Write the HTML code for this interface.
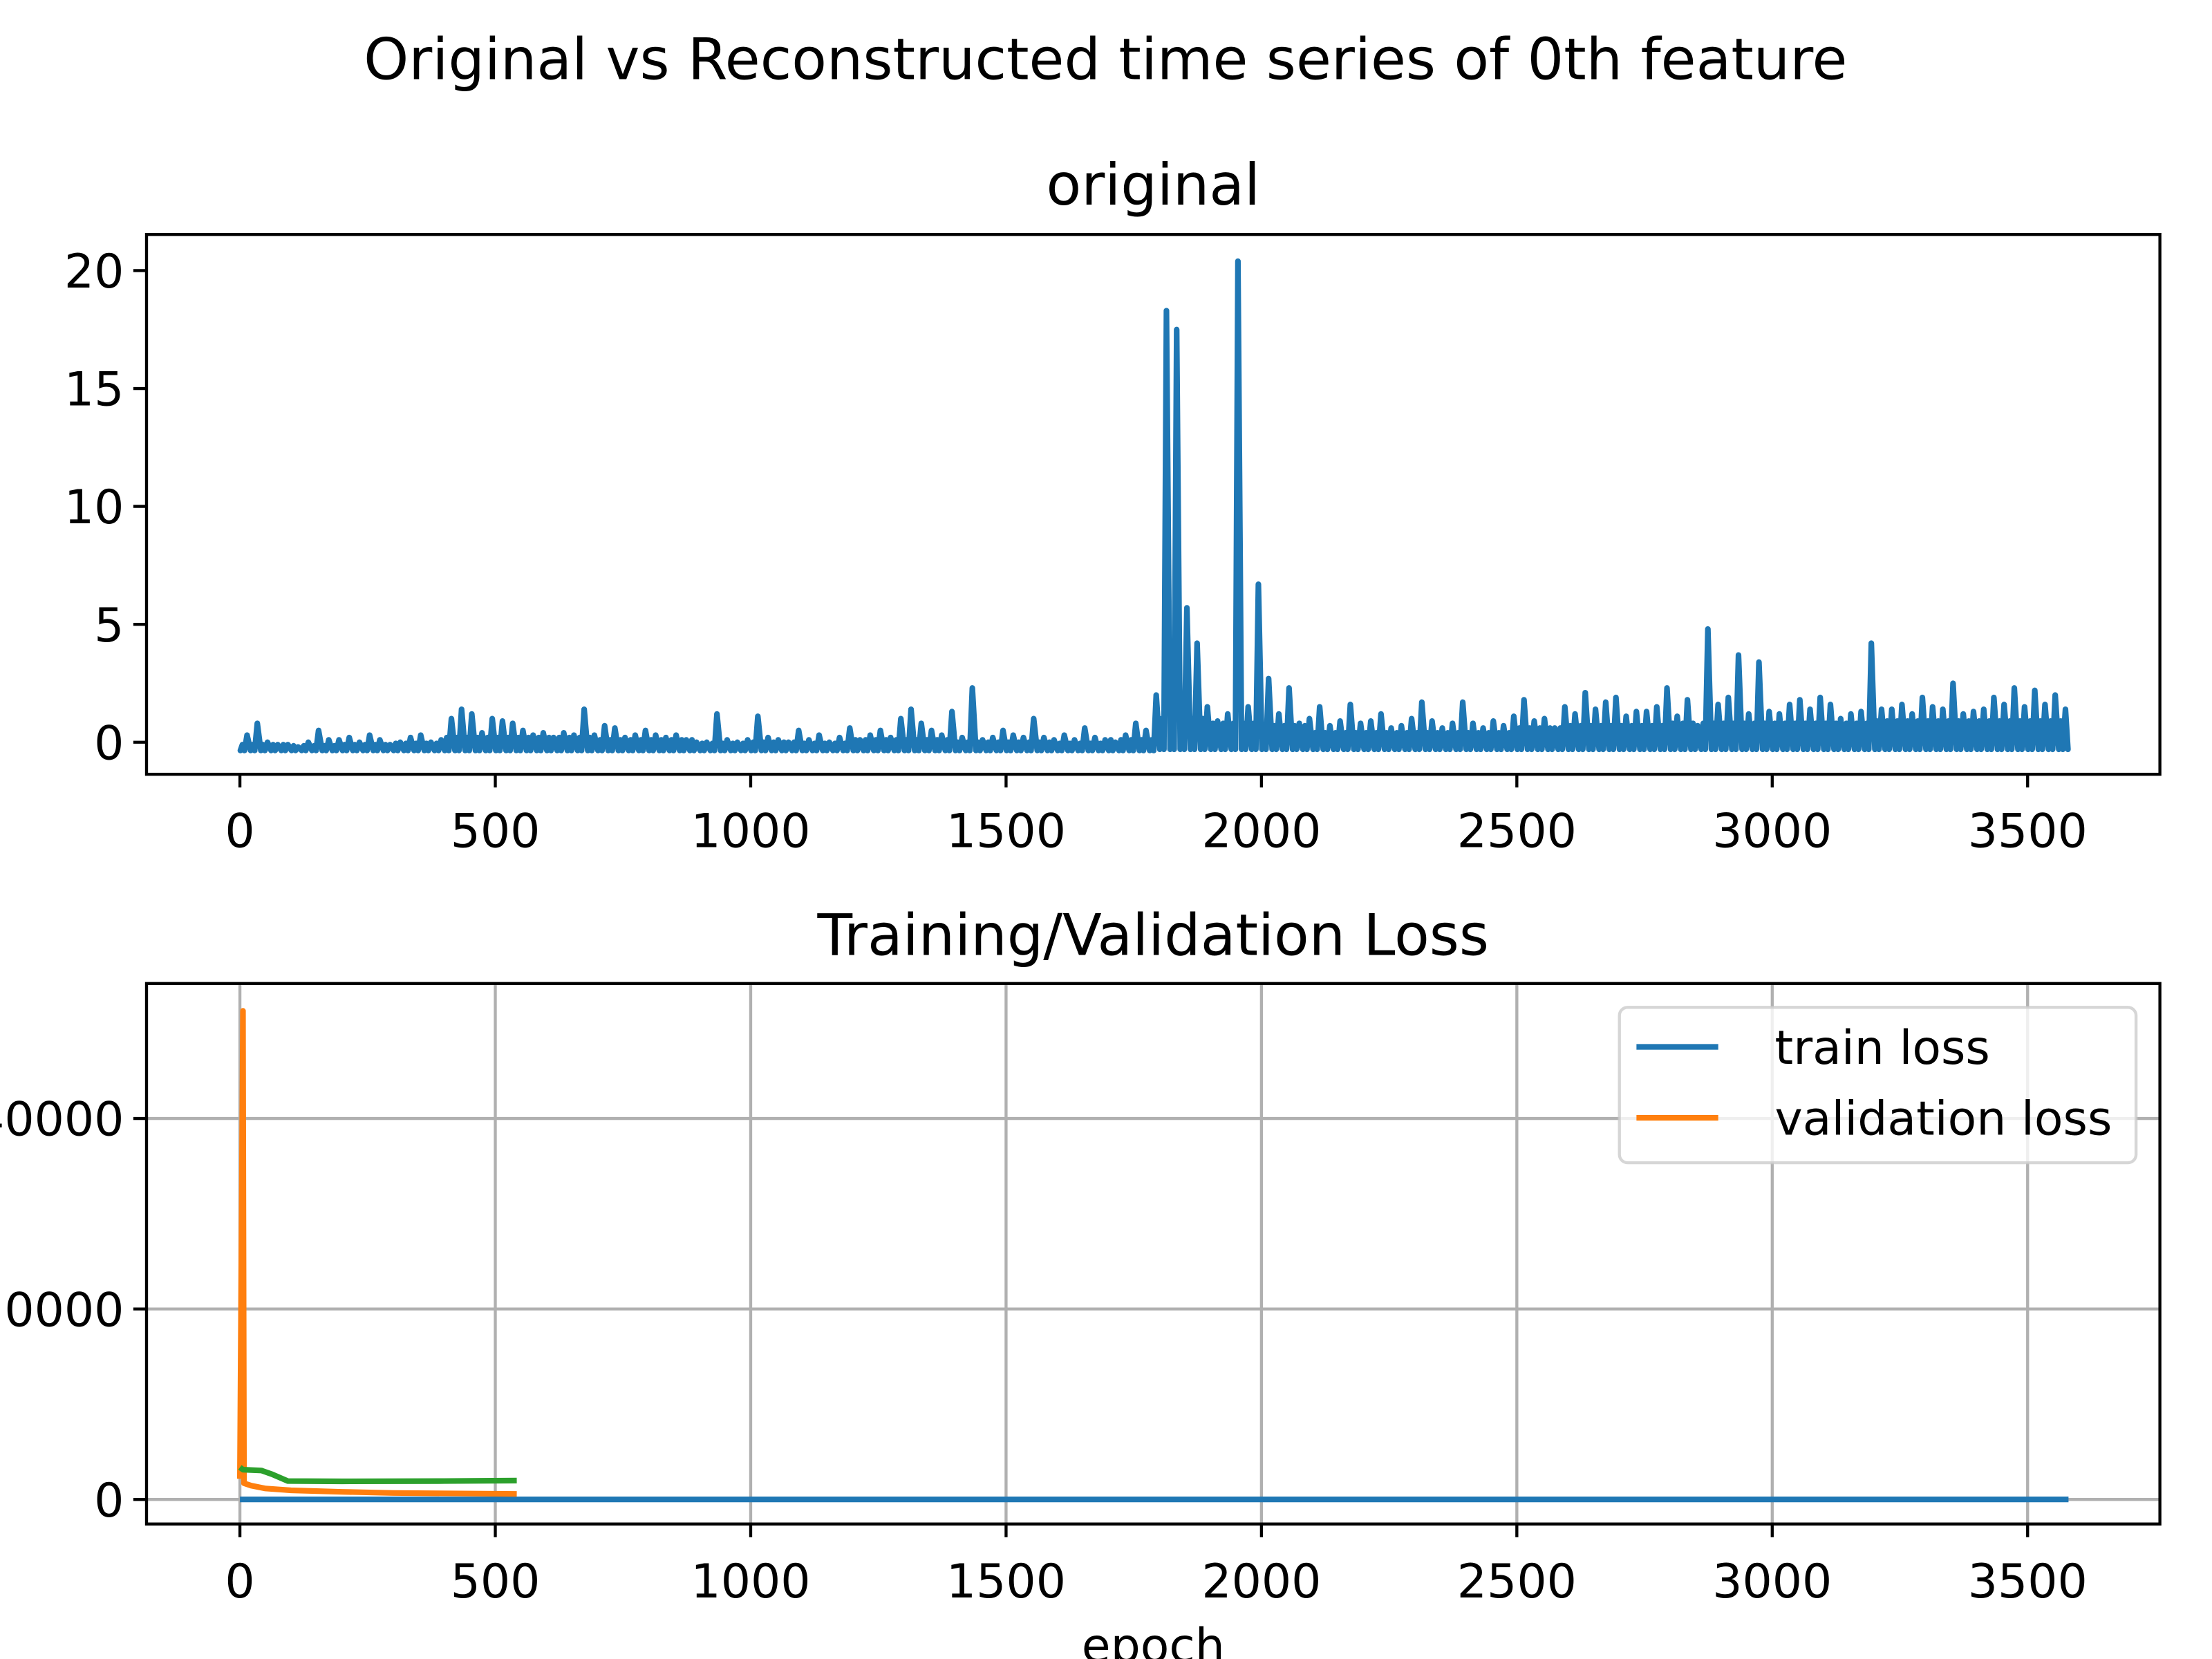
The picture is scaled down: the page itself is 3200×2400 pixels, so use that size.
<!DOCTYPE html>
<html><head><meta charset="utf-8"><style>
html,body{margin:0;padding:0;background:#fff;}
svg{display:block;}
text{font-family:"DejaVu Sans","Liberation Sans",sans-serif;fill:#000;}
</style></head><body>
<svg id="fig" width="3200" height="2400" viewBox="0 0 3200 2400" xmlns="http://www.w3.org/2000/svg">
<rect x="0" y="0" width="3200" height="2400" fill="#fff"/>
<g transform="scale(0.986)">
<text x="1622" y="116" font-size="84" text-anchor="middle">Original vs Reconstructed time series of 0th feature</text>
<text x="1692" y="300" font-size="84" text-anchor="middle">original</text>
<text x="1692" y="1401" font-size="84" text-anchor="middle">Training/Validation Loss</text>
<text x="1692" y="2438" font-size="69" text-anchor="middle">epoch</text>
<g id="topPlot"></g>
<g id="botPlot"></g>
</g>
</svg>
<script>
// ---- top chart data (bin peak values, 20 samples per bin) ----
const topBinSize = 20;
const topHigh = [
0.3,0.8,0.0,-0.1,-0.1,-0.2,0.0,0.5,0.1,0.1,
0.2,0.0,0.3,0.1,-0.1,0.0,0.2,0.3,0.0,0.1,
1.0,1.4,1.2,0.4,1.0,0.9,0.8,0.5,0.3,0.4,
0.2,0.4,0.3,1.4,0.3,0.7,0.6,0.2,0.3,0.5,
0.3,0.2,0.3,0.1,0.0,0.0,1.2,0.1,0.0,0.1,
1.1,0.2,0.1,0.0,0.5,0.1,0.3,0.0,0.2,0.6,
0.1,0.3,0.5,0.2,1.0,1.4,0.8,0.5,0.3,1.3,
0.2,2.3,0.1,0.2,0.5,0.3,0.2,1.0,0.2,0.1,
0.3,0.1,0.6,0.2,0.1,0.0,0.3,0.8,0.5,2.0,
18.3,17.5,5.7,4.2,1.5,0.9,1.2,20.4,1.5,6.7,
2.7,1.2,2.3,0.8,1.0,1.5,0.7,0.9,1.6,0.8,
0.9,1.2,0.6,0.7,1.0,1.7,0.9,0.6,0.8,1.7,
0.8,0.6,0.9,0.7,1.1,1.8,0.9,1.0,0.6,1.5,
1.2,2.1,1.4,1.7,1.9,1.1,1.3,1.3,1.5,2.3,
1.1,1.8,0.7,4.8,1.6,1.9,3.7,1.2,3.4,1.3,
1.2,1.6,1.8,1.4,1.9,1.6,1.0,1.2,1.3,4.2,
1.4,1.4,1.6,1.2,1.9,1.5,1.4,2.5,1.2,1.3,
1.4,1.9,1.6,2.3,1.5,2.2,1.6,2.0,1.4];
// typical band top per 100-sample segment
const topBandSeg = 100;
const topBand = [
-0.1,-0.15,-0.1,-0.05,0.2,0.2,0.2,0.1,0.1,-0.05,
0.0,-0.05,0.1,0.1,0.0,0.0,-0.05,0.1,1.0,0.8,
0.7,0.4,0.4,0.4,0.4,0.6,0.7,0.7,0.8,0.8,
0.8,0.8,0.9,0.9,0.9,0.9];
const topLowPre = -0.35;
const topLowPost = -0.3;
const topXTicks = [0,500,1000,1500,2000,2500,3000,3500];
const topYTicks = [0,5,10,15,20];

// ---- bottom chart data ----
const trainEpochs = [0, 3580];
const trainLoss = [5, 5];
const valEpochs = [0, 6, 8, 22, 50, 100, 200, 300, 542];
const valLoss = [2170, 51300, 1700, 1450, 1150, 960, 800, 680, 580];
const greenEpochs = [0, 6, 42, 63, 94, 200, 400, 542];
const greenLoss = [3370, 3130, 3040, 2650, 1930, 1900, 1930, 1980];
const botXTicks = [0,500,1000,1500,2000,2500,3000,3500];
const botYTicks = [0,20000,40000];
const botYTickLabels = ['0','20000','40000'];
const legendLabels = ['train loss','validation loss'];

const NS='http://www.w3.org/2000/svg';
function mk(tag, attrs, parent){const e=document.createElementNS(NS,tag);for(const k in attrs)e.setAttribute(k,attrs[k]);parent.appendChild(e);return e;}

const TICKFS = 69;
const AX = {l:215, r:3169};
const xs = v => 352 + v*0.7494;
const topAx = {t:344, b:1136};
const ysTop = v => 1089 - v*34.6;
const botAx = {t:1443, b:2236};
const ysBot = v => 2200 - v*(279.5/20000);

const topG = document.getElementById('topPlot');
const botG = document.getElementById('botPlot');

let d='';
for(let k=0;k<topHigh.length;k++){
  const i0=k*topBinSize;
  const low = i0<1800?topLowPre:topLowPost;
  const band = topBand[Math.min(topBand.length-1, Math.floor(i0/topBandSeg))];
  d += (k===0?'M':'L')+xs(i0+1).toFixed(1)+','+ysTop(low).toFixed(1);
  d += 'L'+xs(i0+5).toFixed(1)+','+ysTop(band).toFixed(1);
  d += 'L'+xs(i0+9).toFixed(1)+','+ysTop(low).toFixed(1);
  d += 'L'+xs(i0+14).toFixed(1)+','+ysTop(topHigh[k]).toFixed(1);
}
d += 'L'+xs(3579).toFixed(1)+','+ysTop(topLowPost).toFixed(1);
const tp = mk('path',{d:d,fill:'none',stroke:'#1f77b4','stroke-width':8.3,'stroke-linejoin':'round','stroke-linecap':'round'},topG);



topXTicks.forEach(v=>{
  const x=xs(v);
  const t=mk('line',{x1:x,x2:x,y1:topAx.b,y2:topAx.b+19.4,stroke:'#000','stroke-width':4.4},topG);
  
  
  const l=mk('text',{x:x,y:1243,'font-size':TICKFS,'text-anchor':'middle'},topG);
  l.textContent=v;
  
  
});
topYTicks.forEach(v=>{
  const y=ysTop(v);
  const t=mk('line',{x1:AX.l-19.4,x2:AX.l,y1:y,y2:y,stroke:'#000','stroke-width':4.4},topG);
  
  
  const l=mk('text',{x:AX.l-33,y:y+25,'font-size':TICKFS,'text-anchor':'end'},topG);
  l.textContent=v;
  
  
});
const tf=mk('rect',{x:AX.l,y:topAx.t,width:AX.r-AX.l,height:topAx.b-topAx.t,fill:'none',stroke:'#000','stroke-width':4.4},topG);



botXTicks.forEach(v=>{
  const x=xs(v);
  const g=mk('line',{x1:x,x2:x,y1:botAx.t,y2:botAx.b,stroke:'#b0b0b0','stroke-width':4.4},botG);
  
  
});
botYTicks.forEach(v=>{
  const y=ysBot(v);
  const g=mk('line',{x1:AX.l,x2:AX.r,y1:y,y2:y,stroke:'#b0b0b0','stroke-width':4.4},botG);
  
  
});
function series(ex, ys, color, name){
  let p='';
  ex.forEach((e,i)=>{p+=(i?'L':'M')+xs(e).toFixed(1)+','+ysBot(ys[i]).toFixed(1);});
  const el=mk('path',{d:p,fill:'none',stroke:color,'stroke-width':8.3,'stroke-linejoin':'round','stroke-linecap':'butt'},botG);
  
  
}
series(trainEpochs, trainLoss, '#1f77b4', 'train-loss-line');
series(valEpochs, valLoss, '#ff7f0e', 'validation-loss-line');
series(greenEpochs, greenLoss, '#2ca02c', 'third-loss-line');

botXTicks.forEach(v=>{
  const x=xs(v);
  const t=mk('line',{x1:x,x2:x,y1:botAx.b,y2:botAx.b+19.4,stroke:'#000','stroke-width':4.4},botG);
  
  
  const l=mk('text',{x:x,y:2344,'font-size':TICKFS,'text-anchor':'middle'},botG);
  l.textContent=v;
  
  
});
botYTicks.forEach((v,i)=>{
  const y=ysBot(v);
  const t=mk('line',{x1:AX.l-19.4,x2:AX.l,y1:y,y2:y,stroke:'#000','stroke-width':4.4},botG);
  
  
  const l=mk('text',{x:AX.l-33,y:y+25,'font-size':TICKFS,'text-anchor':'end'},botG);
  l.textContent=botYTickLabels[i];
  
  
});
const bf=mk('rect',{x:AX.l,y:botAx.t,width:AX.r-AX.l,height:botAx.b-botAx.t,fill:'none',stroke:'#000','stroke-width':4.4},botG);



const lg=mk('g',{},botG);


const lb=mk('rect',{x:2376,y:1478,width:758,height:228,rx:12,fill:'#fff','fill-opacity':0.8,stroke:'#cccccc','stroke-opacity':0.8,'stroke-width':4.4},lg);


const legColors=['#1f77b4','#ff7f0e'];
legendLabels.forEach((s,i)=>{
  const y=1536+i*104;
  const ln=mk('line',{x1:2401,x2:2521,y1:y,y2:y,stroke:legColors[i],'stroke-width':8.3},lg);
  
  
  const t=mk('text',{x:2604,y:y+25,'font-size':TICKFS},lg);
  t.textContent=s;
  
  
});
</script>
</body></html>
